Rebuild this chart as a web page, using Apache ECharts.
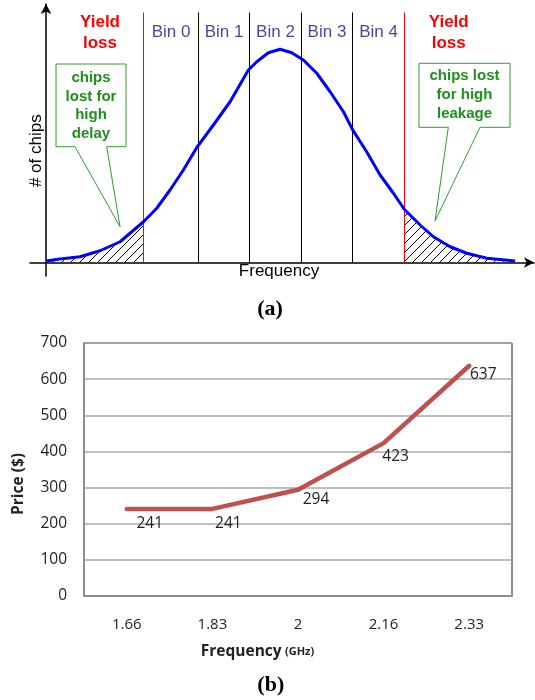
<!DOCTYPE html>
<html><head><meta charset="utf-8">
<script src="https://cdn.jsdelivr.net/npm/echarts@6/dist/echarts.min.js"></script>
<style>html,body{margin:0;padding:0;background:#fff}#c{width:535px;height:700px}</style>
</head><body><div id="c"></div>
<script>
// ---- (a) chip distribution (abstract units) ----
const curveX = [0, 2.89, 7.02, 11.16, 15.29, 20.14, 22.87, 25.62, 28.37, 31.14, 34.57, 38.02, 41.8, 43.53, 45.93, 48.35, 50.76, 53.16, 55.93, 58.68, 61.43, 63.37, 66.26, 69.01, 71.76, 74.05, 77.27, 80.02, 83.47, 86.92, 91.05, 96.9];
const curveY = [0.6, 1.4, 2.3, 4.7, 8.3, 16.3, 21.7, 29.0, 37.0, 46.0, 55.0, 64.3, 77.0, 80.3, 83.9, 85.3, 83.9, 81.0, 75.7, 68.3, 60.3, 53.0, 44.2, 35.0, 27.7, 21.2, 15.0, 10.3, 6.3, 3.7, 1.7, 0.6];
const binEdges = [20.14, 31.5, 42.03, 52.77, 63.31, 74.05];
const binNames = ['Bin 0', 'Bin 1', 'Bin 2', 'Bin 3', 'Bin 4'];
const edgeTop = 100;
const binLabelY = 92;
// ---- (b) price vs frequency ----
const freqLabels = ['1.66', '1.83', '2', '2.16', '2.33'];
const prices = [241, 241, 294, 423, 637];
const priceMin = 0, priceMax = 700, priceStep = 100;

// label offsets (style)
const labelOffsets = [[23, 15], [16, 15], [18, 10], [12, 13], [14, 8.5]];

function hatch() {
  const s = 9;
  const c = document.createElement('canvas');
  c.width = s; c.height = s;
  const g = c.getContext('2d');
  g.strokeStyle = '#000'; g.lineWidth = 1;
  g.beginPath();
  g.moveTo(0, s); g.lineTo(s, 0);
  g.moveTo(-1, 1); g.lineTo(1, -1);
  g.moveTo(s - 1, s + 1); g.lineTo(s + 1, s - 1);
  g.stroke();
  return c;
}
const hatchFill = { image: hatch(), repeat: 'repeat' };

const curve = curveX.map((x, i) => [x, curveY[i]]);
const leftTail = curve.filter(p => p[0] <= binEdges[0] + 1e-6);
const rightTail = curve.filter(p => p[0] >= binEdges[binEdges.length - 1] - 1e-6);
const binCenters = binNames.map((n, i) => [(binEdges[i] + binEdges[i + 1]) / 2, binLabelY, n]);
const isLossEdge = i => i === 0 || i === binEdges.length - 1;

const SANS = 'Liberation Sans, Arial, sans-serif';
const CAL = 'Open Sans, sans-serif';
const GREEN = '#1f8f1f';

const edgeSeries = binEdges.map((e, i) => ({
  type: 'line', xAxisIndex: 0, yAxisIndex: 0, symbol: 'none', silent: true, z: 2,
  data: [[e, 0], [e, edgeTop]],
  lineStyle: { color: isLossEdge(i) ? '#ff0000' : '#000000', width: 1, type: 'solid' },
  itemStyle: { color: isLossEdge(i) ? '#ff0000' : '#000000' }
}));

const chart = echarts.init(document.getElementById('c'), null, { renderer: 'canvas' });
chart.setOption({
  animation: false,
  backgroundColor: '#fff',
  grid: [
    { left: 30, right: 1, top: 4, bottom: 424 },
    { left: 84, right: 23, top: 343, bottom: 104, show: true, borderColor: '#222', borderWidth: 1 }
  ],
  xAxis: [
    { type: 'value', gridIndex: 0, min: -3.31, max: 100.8,
      axisLine: { show: true, onZero: true, symbol: ['none', 'arrow'], symbolSize: [8, 10], lineStyle: { color: '#000', width: 1.5 } },
      axisTick: { show: false }, axisLabel: { show: false }, splitLine: { show: false } },
    { type: 'category', gridIndex: 1, data: freqLabels, boundaryGap: true,
      axisLine: { show: true, lineStyle: { color: '#8c8c8c', width: 2 } },
      axisTick: { show: false },
      axisLabel: { margin: 21, fontSize: 15, color: '#222', fontFamily: CAL },
      splitLine: { show: false } }
  ],
  yAxis: [
    { type: 'value', gridIndex: 0, min: -5.4, max: 103.4,
      axisLine: { show: true, onZero: true, symbol: ['none', 'arrow'], symbolSize: [8, 10], lineStyle: { color: '#000', width: 1.5 } },
      axisTick: { show: false }, axisLabel: { show: false }, splitLine: { show: false } },
    { type: 'value', gridIndex: 1, min: priceMin, max: priceMax, interval: priceStep,
      axisLine: { show: true, lineStyle: { color: '#8c8c8c', width: 2 } },
      axisTick: { show: false },
      axisLabel: { margin: 17, fontSize: 15.5, color: '#222', fontFamily: CAL },
      splitLine: { show: true, lineStyle: { color: '#a8a8a8', width: 1.5 } } }
  ],
  series: [
    { type: 'line', xAxisIndex: 0, yAxisIndex: 0, data: leftTail, symbol: 'none',
      lineStyle: { width: 0, opacity: 0 }, areaStyle: { color: hatchFill, opacity: 1 }, z: 1 },
    { type: 'line', xAxisIndex: 0, yAxisIndex: 0, data: rightTail, symbol: 'none',
      lineStyle: { width: 0, opacity: 0 }, areaStyle: { color: hatchFill, opacity: 1 }, z: 1 },
    ...edgeSeries,
    { type: 'line', xAxisIndex: 0, yAxisIndex: 0, data: curve, symbol: 'none', z: 3,
      lineStyle: { color: '#0000ff', width: 3 } },
    { type: 'scatter', xAxisIndex: 0, yAxisIndex: 0, data: binCenters, symbolSize: 1,
      itemStyle: { color: 'rgba(0,0,0,0)' },
      label: { show: true, position: 'inside', formatter: p => p.data[2], fontSize: 17, fontFamily: SANS, color: '#18187f' } },
    { type: 'line', xAxisIndex: 1, yAxisIndex: 1, symbol: 'circle', symbolSize: 1, showSymbol: true,
      data: prices.map((v, i) => ({ value: v, label: { offset: labelOffsets[i] } })),
      itemStyle: { color: '#C0504D' },
      lineStyle: { color: '#C0504D', width: 4.5, cap: 'round', join: 'round' },
      label: { show: true, position: 'inside', fontSize: 15.5, fontFamily: CAL, color: '#222' } }
  ],
  graphic: [
    { type: 'text', x: 100, y: 33, style: { text: 'Yield\nloss', fontSize: 17, fontWeight: 'bold', fontFamily: SANS, fill: '#ff0000', align: 'center', verticalAlign: 'middle', lineHeight: 20.6 } },
    { type: 'text', x: 448.7, y: 33, style: { text: 'Yield\nloss', fontSize: 17, fontWeight: 'bold', fontFamily: SANS, fill: '#ff0000', align: 'center', verticalAlign: 'middle', lineHeight: 20.6 } },
    { type: 'polygon', z: 10, shape: { points: [[56, 64], [126, 64], [126, 146.7], [106.7, 146.7], [120, 226.7], [75, 146.7], [56, 146.7]] }, style: { fill: '#fff', stroke: '#2e9e2e', lineWidth: 1 } },
    { type: 'text', z: 11, x: 91, y: 106, style: { text: 'chips\nlost for\nhigh\ndelay', fontSize: 15, fontWeight: 'bold', fontFamily: SANS, fill: GREEN, align: 'center', verticalAlign: 'middle', lineHeight: 18.7 } },
    { type: 'polygon', z: 10, shape: { points: [[419, 63.3], [510, 63.3], [510, 127.3], [480, 127.3], [435, 221], [448.3, 127.3], [419, 127.3]] }, style: { fill: '#fff', stroke: '#2e9e2e', lineWidth: 1 } },
    { type: 'text', z: 11, x: 464.5, y: 94.7, style: { text: 'chips lost\nfor high\nleakage', fontSize: 15, fontWeight: 'bold', fontFamily: SANS, fill: GREEN, align: 'center', verticalAlign: 'middle', lineHeight: 18.7 } },
    { type: 'text', x: 36, y: 150.7, rotation: Math.PI / 2, style: { text: '# of chips', fontSize: 17, fontFamily: SANS, fill: '#000', align: 'center', verticalAlign: 'middle' } },
    { type: 'text', x: 279, y: 271.7, style: { text: 'Frequency', fontSize: 17, fontFamily: SANS, fill: '#000', align: 'center', verticalAlign: 'middle' } },
    { type: 'text', x: 270, y: 309, style: { text: '(a)', fontSize: 22, fontWeight: 'bold', fontFamily: 'Liberation Serif, Times New Roman, serif', fill: '#000', align: 'center', verticalAlign: 'middle' } },
    { type: 'text', x: 18.3, y: 484, rotation: Math.PI / 2, style: { text: 'Price ($)', fontSize: 15.5, fontWeight: 'bold', fontFamily: CAL, fill: '#222', align: 'center', verticalAlign: 'middle' } },
    { type: 'text', x: 257.5, y: 651.7, style: { text: '{a|Frequency} {b|(GHz)}', rich: { a: { fontSize: 15.5, fontWeight: 'bold', fontFamily: CAL, fill: '#222' }, b: { fontSize: 11, fontWeight: 'bold', fontFamily: CAL, fill: '#222' } }, align: 'center', verticalAlign: 'middle' } },
    { type: 'text', x: 270.8, y: 685, style: { text: '(b)', fontSize: 22, fontWeight: 'bold', fontFamily: 'Liberation Serif, Times New Roman, serif', fill: '#000', align: 'center', verticalAlign: 'middle' } }
  ]
});
</script>
</body></html>
